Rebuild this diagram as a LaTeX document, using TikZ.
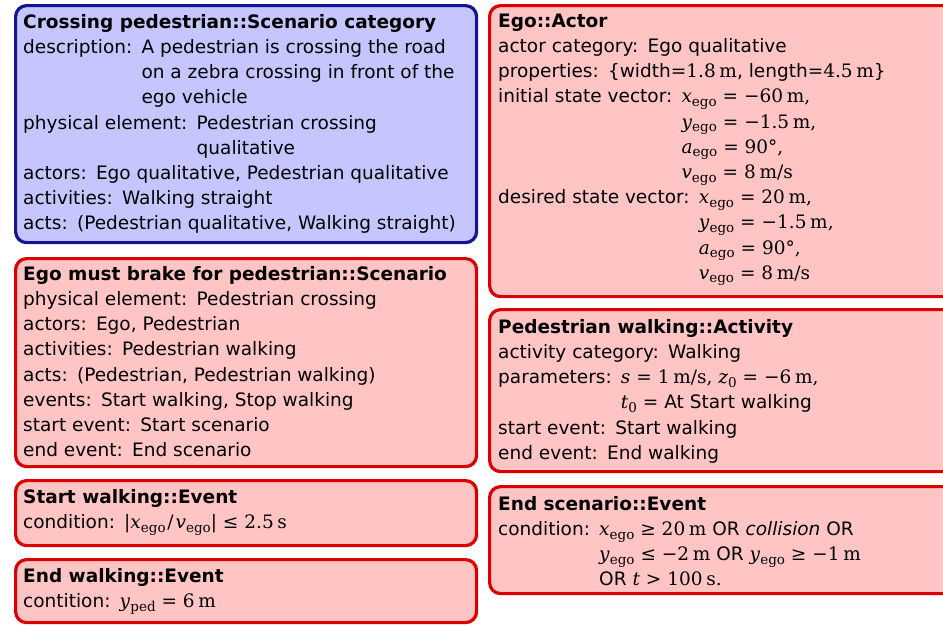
\documentclass[tikz,border=0pt]{standalone}
\usepackage[no-math]{fontspec}
\setmainfont{DejaVu Sans}
\newfontfamily\mf{DejaVu Serif}[Scale=1.0]
\newcommand\colgap{\hspace{0.5em}}
\newcommand\mm[1]{{\mf #1}}
\newcommand\mi[1]{\textit{#1}}
\newcommand\rel[1]{\hspace{0.32em}#1\hspace{0.32em}}
\newcommand\un{\hspace{0.2em}}
\newcommand\sub[1]{\raisebox{-0.38ex}{\fontsize{13.5}{13.5}\selectfont #1}}
\newcommand\eg[1]{\mi{#1}\sub{ego}}
\definecolor{bluefill}{HTML}{C6C6FF}
\definecolor{blueline}{HTML}{141494}
\definecolor{redfill}{HTML}{FFC4C4}
\definecolor{redline}{HTML}{DD0000}
\tikzset{
  box/.style={draw, rounded corners=11pt, line width=3.2pt, inner sep=0pt, anchor=north west},
  bluebox/.style={box, draw=blueline, fill=bluefill},
  redbox/.style={box, draw=redline, fill=redfill},
  txt/.style={anchor=north west, inner sep=0pt, align=left, font=\fontsize{18.5}{25.2}\selectfont}
}
\newcommand\fl{\rule{0pt}{15pt}}
\begin{document}
\begin{tikzpicture}[x=1pt,y=1pt]
\useasboundingbox (0,0) rectangle (943,-625);
\clip (0,0) rectangle (943,-625);
% left column
\node[bluebox, minimum width=461, minimum height=237] (b1) at (14,-4) {};
\node[txt] (t1) at (23,-13) {\fl\textbf{Crossing pedestrian::Scenario category}\\
description:\colgap A pedestrian is crossing the road\\
\phantom{description:\colgap}on a zebra crossing in front of the\\
\phantom{description:\colgap}ego vehicle\\
physical element:\colgap Pedestrian crossing\\
\phantom{physical element:\colgap}qualitative\\
actors:\colgap Ego qualitative, Pedestrian qualitative\\
activities:\colgap Walking straight\\
acts:\colgap (Pedestrian qualitative, Walking straight)};

\node[redbox, minimum width=461, minimum height=208] (b2) at (14,-257) {};
\node[txt] (t2) at (23,-265) {\fl\textbf{Ego must brake for pedestrian::Scenario}\\
physical element:\colgap Pedestrian crossing\\
actors:\colgap Ego, Pedestrian\\
activities:\colgap Pedestrian walking\\
acts:\colgap (Pedestrian, Pedestrian walking)\\
events:\colgap Start walking, Stop walking\\
start event:\colgap Start scenario\\
end event:\colgap End scenario};

\node[redbox, minimum width=461, minimum height=65] (b3) at (14,-479) {};
\node[txt] (t3) at (23,-488) {\fl\textbf{Start walking::Event}\\
condition:\colgap \mm{|\eg{x}\hspace{0.1em}/\hspace{0.1em}\eg{v}|\rel{≤}2.5\un s}};

\node[redbox, minimum width=461, minimum height=63] (b4) at (14,-558) {};
\node[txt] (t4) at (23,-567) {\fl\textbf{End walking::Event}\\
contition:\colgap \mm{\mi{y}\sub{ped}\rel{=}6\un m}};

% right column
\node[redbox, minimum width=480, minimum height=291] (b5) at (488,-4) {};
\node[txt] (t5) at (498,-12) {\fl\textbf{Ego::Actor}\\
actor category:\colgap Ego qualitative\\
properties:\colgap \{width\mm{=1.8\un m}, length\mm{=4.5\un m}\}\\
initial state vector:\colgap \mm{\eg{x}\rel{=}−60\un m,}\\
\phantom{initial state vector:\colgap}\mm{\eg{y}\rel{=}−1.5\un m,}\\
\phantom{initial state vector:\colgap}\mm{\eg{a}\rel{=}90°,}\\
\phantom{initial state vector:\colgap}\mm{\eg{v}\rel{=}8\un m/s}\\
desired state vector:\colgap \mm{\eg{x}\rel{=}20\un m,}\\
\phantom{desired state vector:\colgap}\mm{\eg{y}\rel{=}−1.5\un m,}\\
\phantom{desired state vector:\colgap}\mm{\eg{a}\rel{=}90°,}\\
\phantom{desired state vector:\colgap}\mm{\eg{v}\rel{=}8\un m/s}};

\node[redbox, minimum width=480, minimum height=162] (b6) at (488,-308) {};
\node[txt] (t6) at (498,-318) {\fl\textbf{Pedestrian walking::Activity}\\
activity category:\colgap Walking\\
parameters:\colgap \mm{\mi{s}\rel{=}1\un m/s, \mi{z}\sub{0}\rel{=}−6\un m,}\\
\phantom{parameters:\colgap}\mm{\mi{t}\sub{0}\rel{=}}At Start walking\\
start event:\colgap Start walking\\
end event:\colgap End walking};

\node[redbox, minimum width=480, minimum height=107] (b7) at (488,-485) {};
\node[txt] (t7) at (498,-495) {\fl\textbf{End scenario::Event}\\
condition:\colgap \mm{\eg{x}\rel{≥}20\un m} OR \textit{collision} OR\\
\phantom{condition:\colgap}\mm{\eg{y}\rel{≤}−2\un m} OR \mm{\eg{y}\rel{≥}−1\un m}\\
\phantom{condition:\colgap}OR \mm{\mi{t}\rel{>}100\un s.}};
\end{tikzpicture}
\end{document}
